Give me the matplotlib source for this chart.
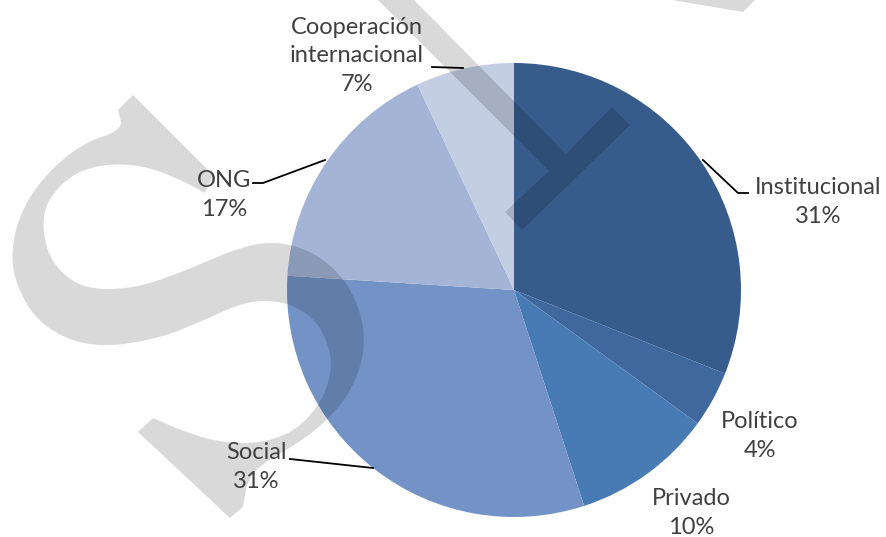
import numpy as np
import matplotlib
matplotlib.use("Agg")
import matplotlib.pyplot as plt
from matplotlib.patches import Polygon

# Data (clockwise from 12 o'clock)
categories = ["Institucional", "Político", "Privado", "Social", "ONG", "Cooperación\ninternacional"]
values = [31, 4, 10, 31, 17, 7]
colors = ["#375C8C", "#3E689E", "#487AB4", "#7393C7", "#A3B4D6", "#C4CEE3"]

W, H = 886, 537


def flip(pts):
    # pixel coords (y down) -> data coords (y up)
    pts = np.asarray(pts, dtype=float)
    return np.column_stack([pts[:, 0], H - pts[:, 1]])


def chaikin(pts, n=3):
    # corner cutting to smooth an open polyline, endpoints kept
    pts = np.asarray(pts, dtype=float)
    for _ in range(n):
        q = 0.75 * pts[:-1] + 0.25 * pts[1:]
        r = 0.25 * pts[:-1] + 0.75 * pts[1:]
        mid = np.empty((2 * len(q), 2))
        mid[0::2] = q
        mid[1::2] = r
        pts = np.vstack([pts[:1], mid, pts[-1:]])
    return pts


fig = plt.figure(figsize=(W / 100, H / 100), dpi=100)
ax = fig.add_axes([0, 0, 1, 1])

ax.pie(values, colors=colors, startangle=90, counterclock=False,
       center=(514, H - 290), radius=227,
       wedgeprops=dict(linewidth=0), frame=True)
ax.set_xlim(0, W)
ax.set_ylim(0, H)
ax.set_aspect("equal")
ax.axis("off")

# watermark shapes (translucent gray on top of the pie)
s_run1 = [(205, 193), (187, 183), (150, 167), (110, 163), (73, 173), (47, 200),
          (42, 227), (50, 260), (73, 283), (100, 290), (140, 287), (187, 270),
          (233, 250), (265, 242), (295, 245), (322, 258), (345, 280), (360, 310),
          (365, 340), (360, 370), (345, 400), (322, 425), (295, 445), (265, 462),
          (248, 478), (243, 507)]
s_run2 = [(153, 418), (185, 432), (223, 443), (263, 443), (297, 430), (323, 400),
          (333, 365), (325, 335), (310, 315), (287, 303), (262, 300), (237, 305),
          (200, 322), (160, 338), (107, 347), (67, 340), (33, 317), (13, 277),
          (12, 243), (23, 207), (47, 173), (83, 143), (123, 130), (118, 110)]
s_shape = np.vstack([[(133, 95), (213, 175)], chaikin(s_run1),
                     [(230, 518), (138, 432)], chaikin(s_run2)])
y_shape = [(412, -2), (566, 154), (612, 107), (630, 125), (522, 230),
           (505, 212), (549, 171), (376, -2)]
corner_shape = [(660, -2), (743, 12), (757, -2)]
for shape in (s_shape, y_shape, corner_shape):
    ax.add_patch(Polygon(flip(shape), closed=True, facecolor="black",
                         edgecolor="none", alpha=0.15, zorder=3))

# labels
label_pos = [(818, 202), (760, 436), (691, 513), (256, 467), (224, 195), (357, 56)]
for name, val, (x, y) in zip(categories, values, label_pos):
    ax.text(x, H - y, f"{name}\n{val}%", ha="center", va="center",
            fontsize=17, family="Lato", color="#404040", linespacing=1.45, zorder=4)

# leader lines
leaders = [
    [(703, 160), (738, 193), (748, 193)],
    [(290, 459), (373, 468)],
    [(253, 183), (263, 183), (325, 160)],
    [(432, 67), (463, 68)],
]
for line in leaders:
    p = flip(line)
    ax.plot(p[:, 0], p[:, 1], color="black", lw=1.3, zorder=4)

fig.savefig("out.png", dpi=100)
